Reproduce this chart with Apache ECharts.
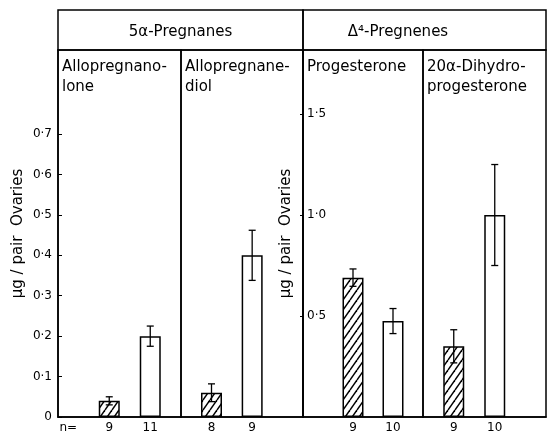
<!DOCTYPE html>
<html><head><meta charset="utf-8">
<script src="https://cdn.jsdelivr.net/npm/echarts@6/dist/echarts.min.js"></script>
<style>html,body{margin:0;padding:0;background:#fff}#c{width:549px;height:434px}</style>
</head><body><div id="c"></div>
<script>
// ---- data ----
const groupTitles = ['5α-Pregnanes', 'Δ⁴-Pregnenes'];
const panelTitles = ['Allopregnano-\nlone', 'Allopregnane-\ndiol', 'Progesterone', '20α-Dihydro-\nprogesterone'];
const hatchedMean = [0.04, 0.06, 0.69, 0.35];
const hatchedErr  = [0.010, 0.022, 0.043, 0.082];
const openMean    = [0.20, 0.40, 0.475, 1.00];
const openErr     = [0.025, 0.062, 0.062, 0.25];
const nHatched = [9, 8, 9, 9];
const nOpen    = [11, 9, 10, 10];
const nLabel = 'n=';
const leftTicks  = [0, 0.1, 0.2, 0.3, 0.4, 0.5, 0.6, 0.7];
const rightTicks = [0.5, 1.0, 1.5];
const yTitle = 'µg / pair  Ovaries';

// ---- layout ----
const FONT = 'DejaVu Sans';
const gridTop = 50, headTop = 10, bottomPx = 17;
const gridLeft  = [58, 181, 303, 423];
const gridWidth = [123, 122, 120, 123];
const slotOffset = [2, 1, 2, 1];
const nSlots = 6;
const leftMax = 0.908, rightMax = 1.817;

function hatch() {
  const c = document.createElement('canvas'); c.width = 7; c.height = 10;
  const g = c.getContext('2d');
  g.fillStyle = '#fff'; g.fillRect(0, 0, 7, 10);
  g.strokeStyle = '#000'; g.lineWidth = 1.5;
  for (const dx of [-7, 0, 7]) { g.beginPath(); g.moveTo(dx, 10); g.lineTo(dx + 7, 0); g.stroke(); }
  return c;
}
const hatchFill = { image: hatch(), repeat: 'repeat' };
const fmt = v => v === 0 ? '0' : v.toFixed(1).replace('.', '·');

const grid = [], xAxis = [], yAxis = [], series = [], title = [];
for (let i = 0; i < 4; i++) {
  grid.push({ left: gridLeft[i], width: gridWidth[i], top: gridTop, bottom: bottomPx, show: true, borderColor: '#000', borderWidth: 1.5, backgroundColor: 'transparent' });
  const cats = new Array(nSlots).fill('');
  if (i === 0) cats[0] = nLabel;
  cats[slotOffset[i]] = String(nHatched[i]);
  cats[slotOffset[i] + 2] = String(nOpen[i]);
  xAxis.push({ type: 'category', gridIndex: i, data: cats, boundaryGap: true,
    axisLine: { show: true, lineStyle: { color: '#000', width: 1.5 } }, axisTick: { show: false },
    axisLabel: { interval: 0, color: '#000', fontFamily: FONT, fontSize: 12, margin: 5 } });
  const isLeft = i < 2;
  const ya = { type: 'value', gridIndex: i, min: 0, max: isLeft ? leftMax : rightMax, interval: isLeft ? 0.1 : 0.5,
    splitLine: { show: false }, show: i === 0 || i === 2 };
  if (i === 0) Object.assign(ya, {
    axisLine: { show: true, lineStyle: { color: '#000', width: 1.5 } },
    axisTick: { show: true, inside: true, length: 4, customValues: leftTicks, lineStyle: { color: '#000' } },
    axisLabel: { customValues: leftTicks, formatter: fmt, color: '#000', fontFamily: FONT, fontSize: 12, margin: 6 },
    name: yTitle, nameLocation: 'middle', nameGap: 32, nameTextStyle: { color: '#000', fontFamily: FONT, fontSize: 15 } });
  if (i === 2) Object.assign(ya, {
    axisLine: { show: true, lineStyle: { color: '#000', width: 1.5 } },
    axisTick: { show: true, inside: false, length: 3, customValues: rightTicks, lineStyle: { color: '#000' } },
    axisLabel: { inside: true, customValues: rightTicks, formatter: fmt, color: '#000', fontFamily: FONT, fontSize: 12, margin: 4 },
    name: yTitle, nameLocation: 'middle', nameGap: 9, nameTextStyle: { color: '#000', fontFamily: FONT, fontSize: 15 } });
  yAxis.push(ya);

  const hData = new Array(nSlots).fill('-'); hData[slotOffset[i]] = hatchedMean[i];
  const oData = new Array(nSlots).fill('-'); oData[slotOffset[i] + 2] = openMean[i];
  series.push({ type: 'bar', xAxisIndex: i, yAxisIndex: i, data: hData, barWidth: 21, barGap: '-100%',
    itemStyle: { color: hatchFill, borderColor: '#000', borderWidth: 1.5 }, silent: true });
  series.push({ type: 'bar', xAxisIndex: i, yAxisIndex: i, data: oData, barWidth: 21, barGap: '-100%',
    itemStyle: { color: '#fff', borderColor: '#000', borderWidth: 1.5 }, silent: true });
  series.push({ type: 'custom', xAxisIndex: i, yAxisIndex: i, z: 5,
    data: [[slotOffset[i], hatchedMean[i], hatchedErr[i]], [slotOffset[i] + 2, openMean[i], openErr[i]]],
    renderItem: (params, api) => {
      const x = api.value(0), m = api.value(1), e = api.value(2);
      const hi = api.coord([x, m + e]), lo = api.coord([x, m - e]);
      const cw = 3.5, st = { stroke: '#000', lineWidth: 1.3 };
      return { type: 'group', children: [
        { type: 'line', shape: { x1: hi[0], y1: hi[1], x2: lo[0], y2: lo[1] }, style: st },
        { type: 'line', shape: { x1: hi[0] - cw, y1: hi[1], x2: hi[0] + cw, y2: hi[1] }, style: st },
        { type: 'line', shape: { x1: lo[0] - cw, y1: lo[1], x2: lo[0] + cw, y2: lo[1] }, style: st }
      ] };
    } });
  title.push({ text: panelTitles[i], left: gridLeft[i] + 4, top: 57, padding: 0,
    textStyle: { color: '#000', fontFamily: FONT, fontSize: 15, fontWeight: 'normal', lineHeight: 20 } });
}

const graphic = [
  { type: 'rect', shape: { x: gridLeft[0], y: headTop, width: gridLeft[2] - gridLeft[0], height: gridTop - headTop }, style: { fill: 'none', stroke: '#000', lineWidth: 1.5 } },
  { type: 'rect', shape: { x: gridLeft[2], y: headTop, width: gridLeft[3] + gridWidth[3] - gridLeft[2], height: gridTop - headTop }, style: { fill: 'none', stroke: '#000', lineWidth: 1.5 } },
  { type: 'text', x: (gridLeft[0] + gridLeft[2]) / 2, y: 32, style: { text: groupTitles[0], fill: '#000', font: '15px "DejaVu Sans"', textAlign: 'center', textVerticalAlign: 'middle' } },
  { type: 'text', x: 398, y: 32, style: { text: groupTitles[1], fill: '#000', font: '15px "DejaVu Sans"', textAlign: 'center', textVerticalAlign: 'middle' } }
];

const chart = echarts.init(document.getElementById('c'), null, { renderer: 'canvas' });
chart.setOption({ animation: false, backgroundColor: '#fff', grid, xAxis, yAxis, series, title, graphic });
</script></body></html>
